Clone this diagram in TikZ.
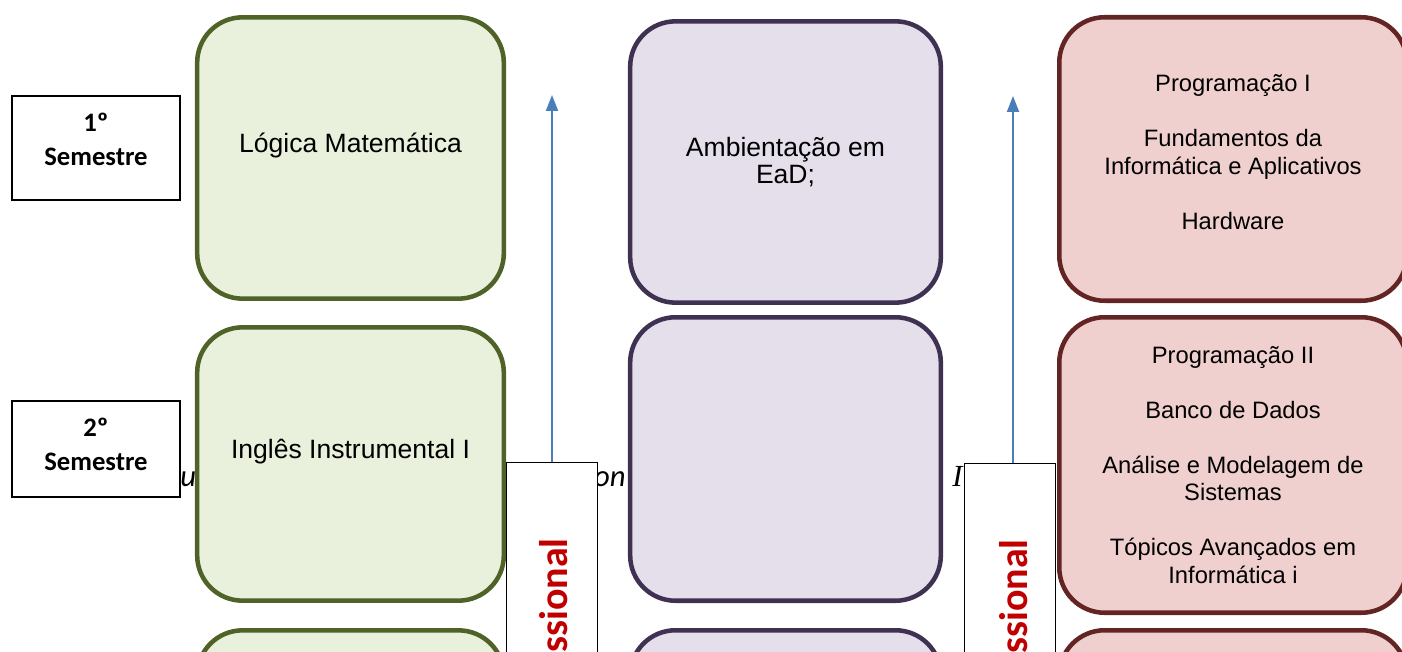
\documentclass[tikz,border=0pt]{standalone}
\usepackage{fontspec}
\setmainfont{Liberation Sans}
\newfontfamily\calibri{Carlito}
\newfontfamily\timesit{Liberation Serif}
\usetikzlibrary{arrows.meta}
\definecolor{verdeborda}{HTML}{4F6228}
\definecolor{verdefundo}{HTML}{E9F0DC}
\definecolor{roxoborda}{HTML}{3F3151}
\definecolor{roxofundo}{HTML}{E4DFEB}
\definecolor{vinhoborda}{HTML}{632523}
\definecolor{vinhofundo}{HTML}{EFD0CE}
\definecolor{azulseta}{HTML}{4A7EBB}
\definecolor{vermelho}{HTML}{C00000}
\begin{document}
\begin{tikzpicture}[x=0.75pt,y=-0.75pt]
    \useasboundingbox (0,0) rectangle (1402,652);
    \clip (0,0) rectangle (1402,652);
    \tikzstyle{fundo}=[inner sep=0pt, font=\calibri\itshape\fontsize{23}{27}\selectfont]
    \tikzstyle{fundoserif}=[inner sep=0pt, font=\timesit\itshape\fontsize{23}{27}\selectfont]
    \tikzstyle{semestre}=[rectangle, draw, line width=1.5pt, fill=white, align=center, inner sep=0pt, minimum width=126pt, font=\calibri\bfseries\fontsize{20}{25.5}\selectfont]
    \tikzstyle{caixa}=[rectangle, rounded corners=34pt, line width=3.4pt, align=center, inner sep=0pt, font=\fontsize{19.9}{20.25}\selectfont]
    \tikzstyle{verde}=[caixa, draw=verdeborda, fill=verdefundo, minimum width=230pt]
    \tikzstyle{roxo}=[caixa, draw=roxoborda, fill=roxofundo, minimum width=233pt]
    \tikzstyle{vinho}=[caixa, draw=vinhoborda, fill=vinhofundo, minimum width=260.6pt, font=\fontsize{17.8}{20.6}\selectfont]
    \tikzstyle{faixa}=[rectangle, draw, line width=1pt, fill=white, minimum width=68pt, minimum height=300pt]
    \tikzstyle{vertical}=[rotate=90, anchor=base east, inner sep=0pt, text=vermelho, font=\calibri\bfseries\fontsize{30}{36}\selectfont]

    \node[fundo, anchor=base west] (N01) at (180,486) {u};
    \node[fundo, anchor=base east] (N02) at (626,486) {on};
    \node[fundoserif, anchor=base west] (N03) at (952,486) {I};

    \node[semestre, minimum height=78pt] (N04) at (96,148) {1º\\Semestre\\[-12pt]\mbox{}};
    \node[semestre, minimum height=72pt] (N05) at (96,449) {2º\\Semestre\\[-18.75pt]\mbox{}};

    \node[verde, minimum height=211pt] (N06) at (350.5,158) {Lógica Matemática\\[2pt] \mbox{}};
    \node[verde, minimum height=205pt] (N07) at (350.5,464) {Inglês Instrumental I\\[2pt] \mbox{}};
    \node[verde, minimum height=205pt] (N08) at (350.5,767) {};

    \node[faixa] (N09) at (552,662.7) {};
    \node[vertical] (N10) at (567,538) {ssional};
    \coordinate (N11) at (552,95);

    \node[roxo, minimum height=211pt] (N12) at (785.5,162) {Ambientação em\\EaD;};
    \node[roxo, minimum height=212.6pt] (N13) at (785.5,459) {};
    \node[roxo, minimum height=212.6pt] (N14) at (785.5,772) {};

    \node[faixa] (N15) at (1010,663.2) {};
    \node[vertical] (N16) at (1027,539) {ssional};
    \coordinate (N17) at (1013,96);

    \node[vinho, minimum height=212.6pt] (N18) at (1233,159) {Programação I\\[20.6pt]Fundamentos da\\Informática e Aplicativos\\[20.6pt]Hardware\\[-10.1pt]\mbox{}};
    \node[vinho, minimum height=221.6pt] (N19) at (1233,465) {Programação II\\[20.6pt]Banco de Dados\\[20.6pt]Análise e Modelagem de\\Sistemas\\[20.6pt]Tópicos Avançados em\\Informática i};
    \node[vinho, minimum height=221.6pt] (N20) at (1233,778) {};

    \tikzstyle{link}=[->, line width=1.5pt, draw=azulseta, >={Triangle[length=12pt,width=9pt]}]
    \draw[link] (N09.north) -- (N11);
    \draw[link] (N15.north -| N17) -- (N17);
\end{tikzpicture}
\end{document}
